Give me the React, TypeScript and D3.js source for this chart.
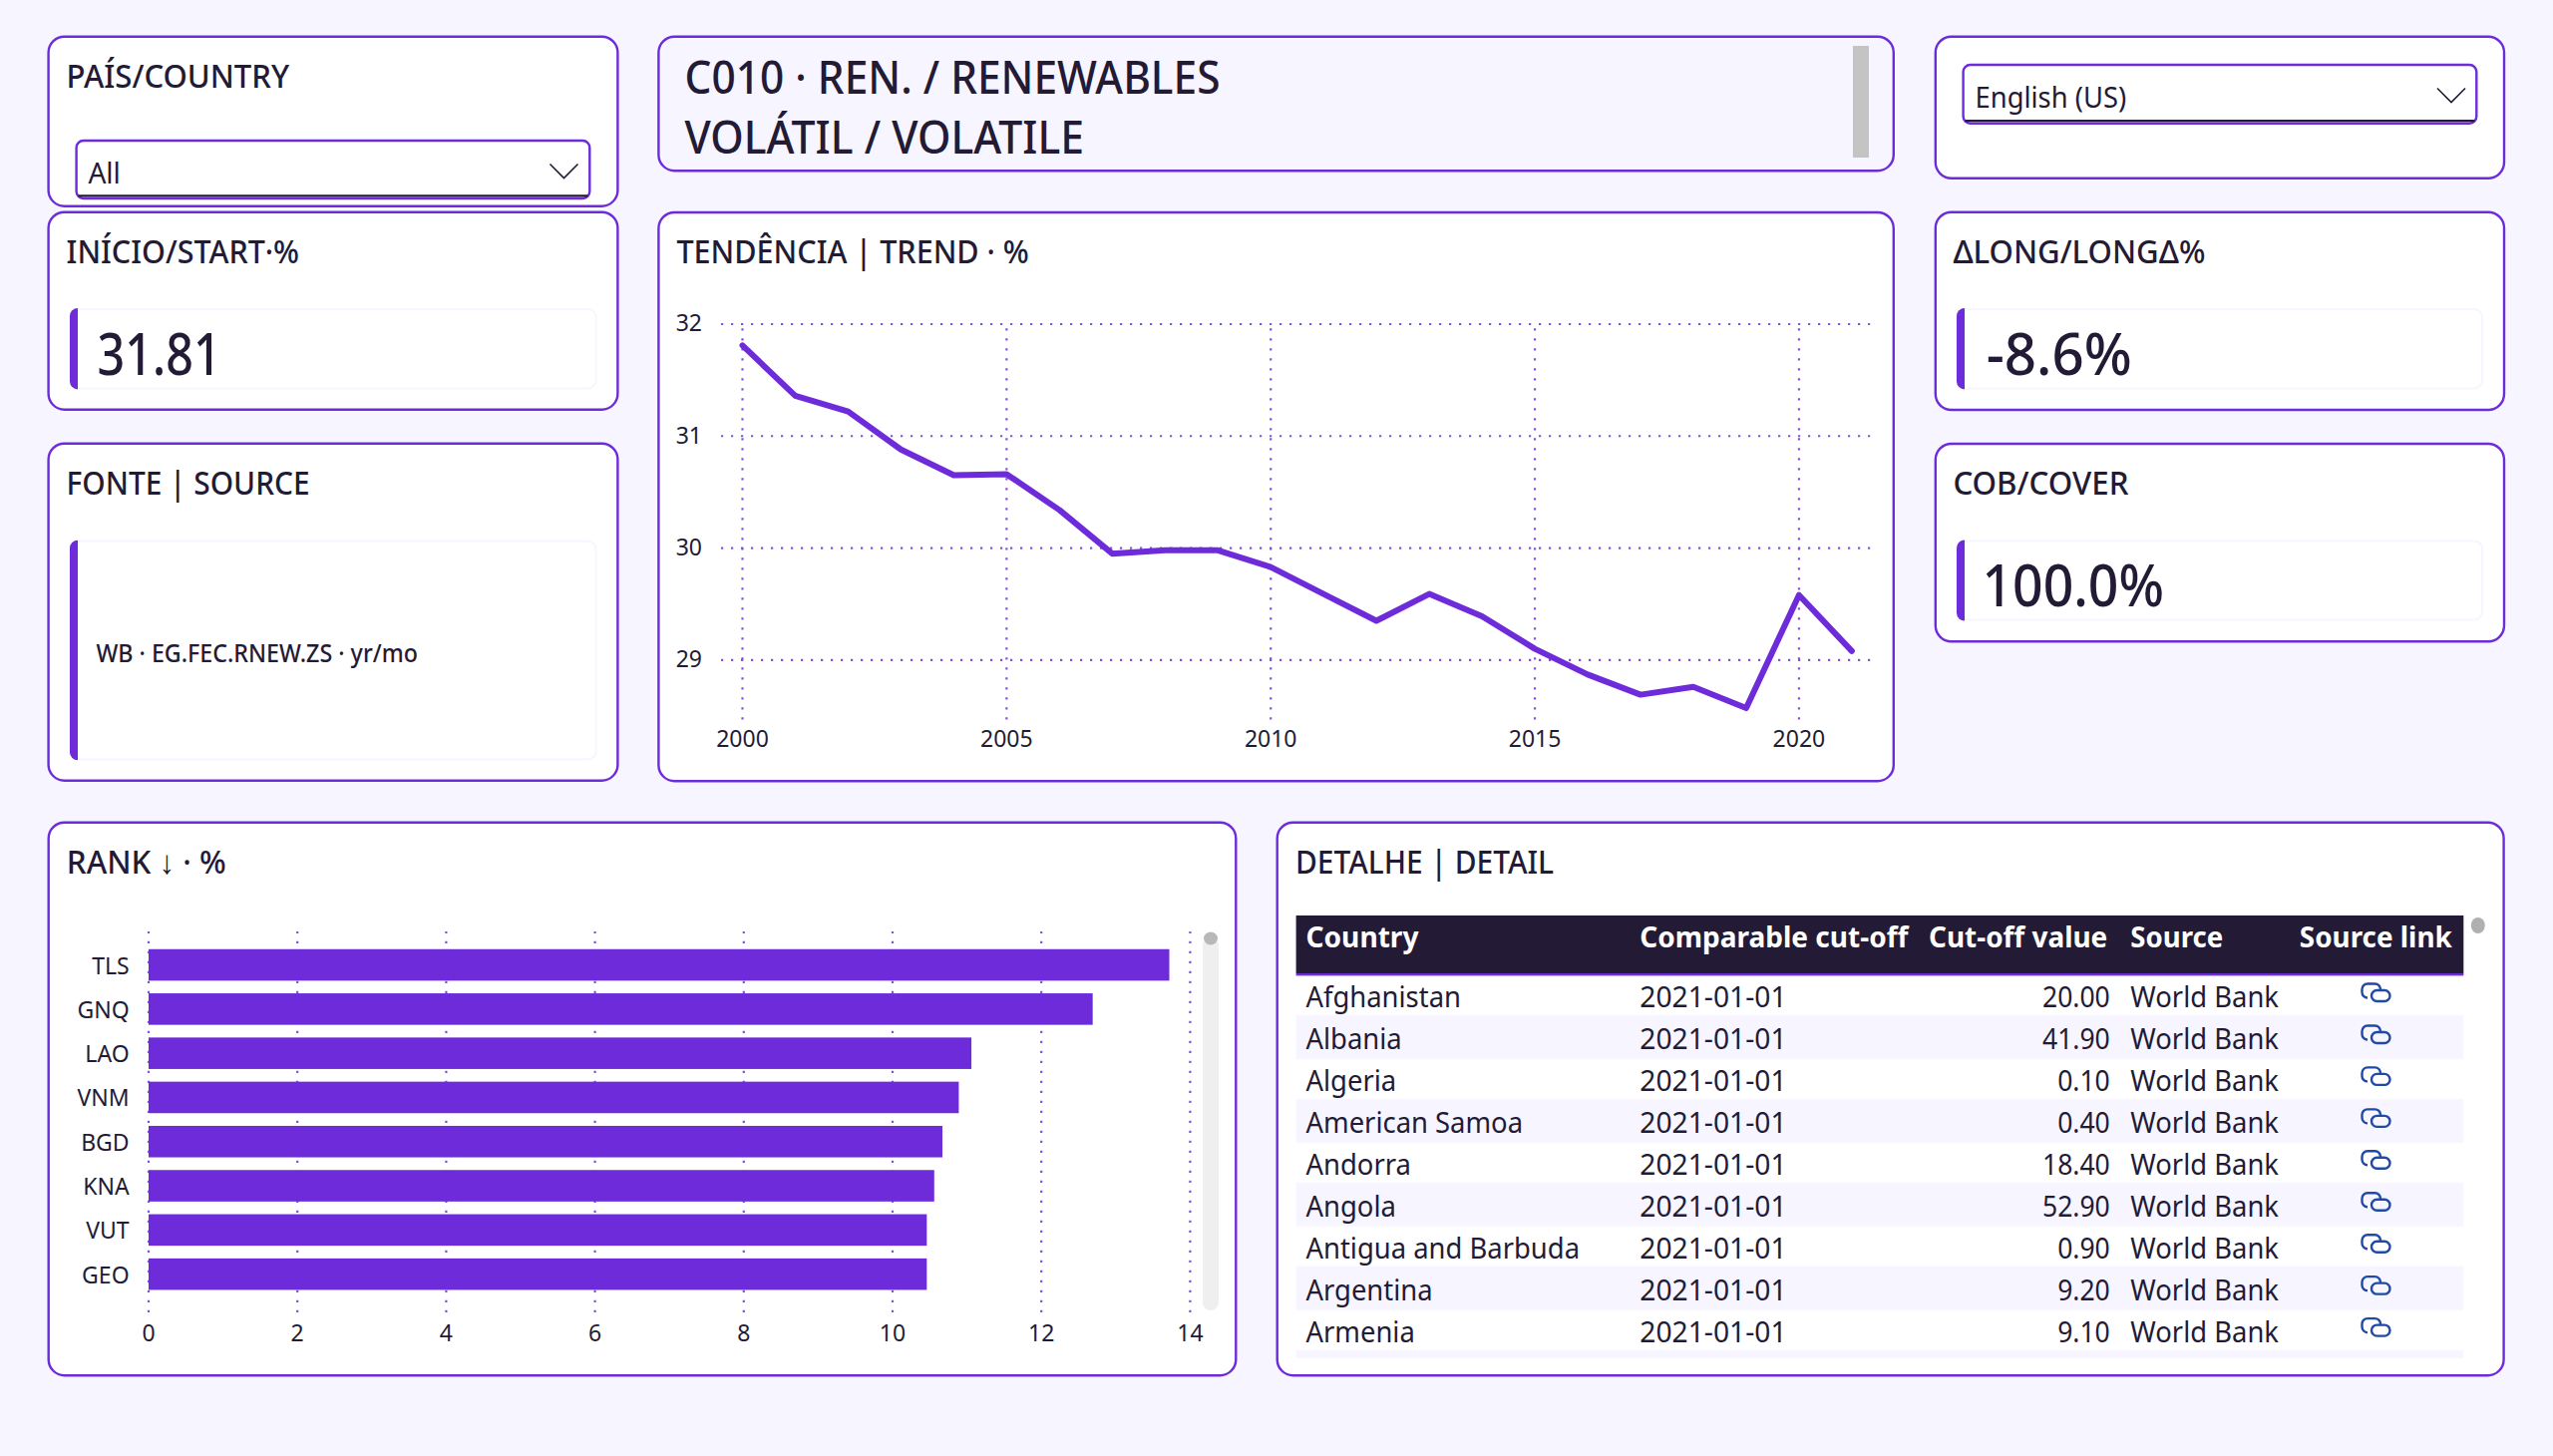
import { useEffect, useRef } from "react"
import * as d3 from "d3"

const years = [2000, 2001, 2002, 2003, 2004, 2005, 2006, 2007, 2008, 2009, 2010, 2011, 2012, 2013, 2014, 2015, 2016, 2017, 2018, 2019, 2020, 2021]
const trendValues = [31.81, 31.36, 31.22, 30.88, 30.65, 30.66, 30.34, 29.95, 29.98, 29.98, 29.83, 29.59, 29.35, 29.59, 29.39, 29.1, 28.87, 28.69, 28.76, 28.57, 29.58, 29.08]
const trendYearTicks = [2000, 2005, 2010, 2015, 2020]
const trendValueTicks = [29, 30, 31, 32]

const rankCodes = ["TLS", "GNQ", "LAO", "VNM", "BGD", "KNA", "VUT", "GEO"]
const rankValues = [13.72, 12.69, 11.06, 10.89, 10.67, 10.56, 10.46, 10.46]
const rankTicks = [0, 2, 4, 6, 8, 10, 12, 14]

const tableHeaders = ["Country", "Comparable cut-off", "Cut-off value", "Source", "Source link"]
const countries = ["Afghanistan", "Albania", "Algeria", "American Samoa", "Andorra", "Angola", "Antigua and Barbuda", "Argentina", "Armenia"]
const cutoffDates = ["2021-01-01", "2021-01-01", "2021-01-01", "2021-01-01", "2021-01-01", "2021-01-01", "2021-01-01", "2021-01-01", "2021-01-01"]
const cutoffValues = [20.0, 41.9, 0.1, 0.4, 18.4, 52.9, 0.9, 9.2, 9.1]
const sources = ["World Bank", "World Bank", "World Bank", "World Bank", "World Bank", "World Bank", "World Bank", "World Bank", "World Bank"]

const PURPLE = "#6d2bd9"
const INK = "#231b36"
const PAGE = "#f7f5ff"
const DOT = "#8350e1"
const FONT = "'Noto Sans', 'Open Sans', sans-serif"

type Sel = d3.Selection<SVGGElement, unknown, null, undefined>

function label(g: Sel, x: number, y: number, str: string, size: number, opts: { w?: number; squeeze?: number; weight?: number; anchor?: string; fill?: string } = {}) {
  const t = g
    .append("text")
    .attr("x", x)
    .attr("y", y)
    .attr("font-size", size)
    .attr("font-weight", opts.weight ?? 400)
    .attr("fill", opts.fill ?? INK)
    .attr("text-anchor", opts.anchor ?? "start")
    .text(str)
  const width = opts.w ?? (opts.squeeze ? (t.node() as SVGTextElement).getComputedTextLength() * opts.squeeze : 0)
  if (width) t.attr("textLength", width).attr("lengthAdjust", "spacingAndGlyphs")
  return t
}

function card(g: Sel, x0: number, y0: number, x1: number, y1: number, fill = "#fff") {
  g.append("rect")
    .attr("x", x0)
    .attr("y", y0)
    .attr("width", x1 - x0)
    .attr("height", y1 - y0)
    .attr("rx", 16)
    .attr("fill", fill)
    .attr("stroke", PURPLE)
    .attr("stroke-width", 2.4)
}

function innerBox(g: Sel, x0: number, y0: number, x1: number, y1: number) {
  g.append("rect")
    .attr("x", x0)
    .attr("y", y0)
    .attr("width", x1 - x0)
    .attr("height", y1 - y0)
    .attr("rx", 8)
    .attr("fill", "#fff")
    .attr("stroke", PAGE)
    .attr("stroke-width", 2)
  g.append("path")
    .attr("d", `M${x0 + 8},${y0 - 1}V${y1 + 1}A8,8 0 0 1 ${x0},${y1 - 7}V${y0 + 7}A8,8 0 0 1 ${x0 + 8},${y0 - 1}Z`)
    .attr("fill", PURPLE)
}

function dropdown(g: Sel, x0: number, y0: number, x1: number, y1: number, chevX: number, chevY: number) {
  g.append("rect")
    .attr("x", x0)
    .attr("y", y0)
    .attr("width", x1 - x0)
    .attr("height", y1 - y0)
    .attr("rx", 7)
    .attr("fill", "#fff")
    .attr("stroke", PURPLE)
    .attr("stroke-width", 2.4)
  g.append("line")
    .attr("x1", x0 + 2)
    .attr("x2", x1 - 2)
    .attr("y1", y1 - 2.6)
    .attr("y2", y1 - 2.6)
    .attr("stroke", INK)
    .attr("stroke-width", 2.4)
  g.append("path")
    .attr("d", `M${chevX},${chevY}L${chevX + 14},${chevY + 14}L${chevX + 28},${chevY}`)
    .attr("fill", "none")
    .attr("stroke", INK)
    .attr("stroke-width", 1.6)
}

function styleGrid(axis: Sel) {
  axis.select(".domain").remove()
  axis.selectAll(".tick line").attr("stroke", DOT).attr("stroke-width", 2.2).attr("stroke-dasharray", "2.2 7.8")
  axis.selectAll(".tick text").attr("fill", INK).attr("font-size", 23).attr("font-family", FONT)
}

export default function App() {
  const svgRef = useRef<SVGSVGElement>(null)

  useEffect(() => {
    if (!svgRef.current) return
    const svg = d3.select(svgRef.current)
    svg.selectAll("*").remove()
    const root = svg.append("g").attr("font-family", FONT) as unknown as Sel

    // left column
    card(root, 48.6, 36.7, 619.4, 206.7)
    label(root, 66.6, 87.7, "PAÍS/COUNTRY", 33, { w: 223.5, weight: 500 })
    dropdown(root, 76.6, 141, 591.3, 199, 551.5, 164.5)
    label(root, 88.4, 184, "All", 29, { squeeze: 0.97 })

    card(root, 48.6, 212.7, 619.4, 410.7)
    label(root, 66.6, 264, "INÍCIO/START·%", 33, { w: 233.5, weight: 500 })
    innerBox(root, 70, 310, 597.5, 389.4)
    label(root, 97.6, 375.7, "31.81", 58, { w: 124, weight: 500 })

    card(root, 48.6, 444.7, 619.4, 782.7)
    label(root, 66.6, 495.7, "FONTE | SOURCE", 33, { w: 244, weight: 500 })
    innerBox(root, 70, 542.7, 597.5, 761.3)
    label(root, 96.4, 664, "WB · EG.FEC.RNEW.ZS · yr/mo", 25, { w: 322.5, weight: 500 })

    // header + trend
    card(root, 660.4, 36.7, 1898.8, 171.2, PAGE)
    label(root, 686.5, 93.6, "C010 · REN. / RENEWABLES", 45, { w: 537, weight: 550 })
    label(root, 686.5, 153.8, "VOLÁTIL / VOLATILE", 45, { w: 400.5, weight: 550 })
    root.append("rect").attr("x", 1858).attr("y", 46).attr("width", 16).attr("height", 112).attr("fill", "#c4c4c4")

    card(root, 660.4, 213, 1898.8, 783.2)
    label(root, 678.4, 264, "TENDÊNCIA | TREND · %", 33, { w: 353.5, weight: 500 })

    const trendX = d3.scaleLinear().domain([2000, 2021]).range([744.5, 1856.9])
    const trendY = d3.scaleLinear().domain([29, 32]).range([661.8, 325])

    const trendAxisY = root.append("g").attr("transform", "translate(723,0)") as unknown as Sel
    trendAxisY.call(d3.axisLeft(trendY).tickValues(trendValueTicks).tickFormat(d3.format("d") as any).tickSizeInner(-1154).tickSizeOuter(0).tickPadding(19).offset(0) as any)
    styleGrid(trendAxisY)

    const trendAxisX = root.append("g").attr("transform", "translate(0,721.5)") as unknown as Sel
    trendAxisX.call(d3.axisBottom(trendX).tickValues(trendYearTicks).tickFormat(d3.format("d") as any).tickSizeInner(-396.5).tickSizeOuter(0).tickPadding(11).offset(0) as any)
    styleGrid(trendAxisX)

    const trendLine = d3
      .line<number>()
      .x((_, i) => trendX(years[i]))
      .y((d) => trendY(d))
    root
      .append("path")
      .attr("d", trendLine(trendValues))
      .attr("fill", "none")
      .attr("stroke", PURPLE)
      .attr("stroke-width", 6)
      .attr("stroke-linecap", "round")
      .attr("stroke-linejoin", "round")

    // right column
    card(root, 1940.8, 36.7, 2511, 178.8)
    dropdown(root, 1968.6, 65, 2483.3, 123.7, 2444, 88.5)
    label(root, 1980.6, 107.6, "English (US)", 29, { w: 151.5 })

    card(root, 1940.8, 212.7, 2511, 411)
    label(root, 1958.4, 263.7, "ΔLONG/LONGΔ%", 33, { w: 253, weight: 500 })
    innerBox(root, 1962, 310, 2489, 389.4)
    label(root, 1991.7, 376, "-8.6%", 58, { w: 146, weight: 500 })

    card(root, 1940.8, 445, 2511, 643.3)
    label(root, 1958.4, 495.5, "COB/COVER", 33, { w: 176, weight: 500 })
    innerBox(root, 1962, 542.4, 2489, 621.6)
    label(root, 1987.5, 608, "100.0%", 58, { w: 182.5, weight: 500 })

    // rank bars
    card(root, 48.7, 824.7, 1239.3, 1379.2)
    label(root, 66.8, 875.8, "RANK ↓ · %", 33, { w: 160, weight: 500 })

    const rankX = d3.scaleLinear().domain([0, 14]).range([149, 1193.4])
    const rankY = d3.scaleBand<string>().domain(rankCodes).range([945.4, 1299.8]).paddingInner(0.287).paddingOuter(0.1435)

    const rankAxisX = root.append("g").attr("transform", "translate(0,1316)") as unknown as Sel
    rankAxisX.call(d3.axisBottom(rankX).tickValues(rankTicks).tickSizeInner(-382).tickSizeOuter(0).tickPadding(13).offset(0) as any)
    styleGrid(rankAxisX)

    root
      .append("g")
      .selectAll("rect")
      .data(rankValues)
      .join("rect")
      .attr("x", rankX(0))
      .attr("y", (_, i) => rankY(rankCodes[i]) as number)
      .attr("width", (d) => rankX(d) - rankX(0))
      .attr("height", rankY.bandwidth())
      .attr("fill", PURPLE)

    const rankAxisY = root.append("g").attr("transform", "translate(149,0)") as unknown as Sel
    rankAxisY.call(d3.axisLeft(rankY).tickSize(0).tickPadding(19.4).offset(0) as any)
    rankAxisY.select(".domain").remove()
    rankAxisY.selectAll(".tick text").attr("fill", INK).attr("font-size", 23).attr("font-family", FONT).attr("dy", "0.39em")

    root.append("rect").attr("x", 1206).attr("y", 940).attr("width", 16).attr("height", 374).attr("rx", 8).attr("fill", "#efefef")
    root.append("ellipse").attr("cx", 1214).attr("cy", 941).attr("rx", 7).attr("ry", 6.5).attr("fill", "#b8b8b8")

    // detail table
    card(root, 1280.7, 824.7, 2510.6, 1379.2)
    label(root, 1299, 875.8, "DETALHE | DETAIL", 33, { w: 259, weight: 500 })

    root.append("rect").attr("x", 1299.6).attr("y", 918).attr("width", 1170.7).attr("height", 58).attr("fill", INK)
    root.append("rect").attr("x", 1299.6).attr("y", 976).attr("width", 1170.7).attr("height", 2.4).attr("fill", PURPLE)
    const headerX = [1309.5, 1644.3, 1934, 2136.3, 2305.8]
    const headerW = [113, 269, 179.3, 93, 153]
    tableHeaders.forEach((h, i) => label(root, headerX[i], 950.3, h, 29, { w: headerW[i], weight: 700, fill: "#fff" }))

    const rowY = d3.scaleLinear().domain([0, 1]).range([976, 1017.95])
    countries.forEach((name, i) => {
      if (i % 2 === 1) {
        root.append("rect").attr("x", 1299.6).attr("y", rowY(i)).attr("width", 1170.7).attr("height", 44).attr("fill", PAGE)
      }
      const base = rowY(i) + 34.2
      label(root, 1309.5, base, name, 29, { squeeze: 0.945 })
      label(root, 1644.3, base, cutoffDates[i], 29, { w: 147.3 })
      label(root, 2115.8, base, d3.format(".2f")(cutoffValues[i]), 29, { anchor: "end", squeeze: 0.915 })
      label(root, 2136.3, base, sources[i], 29, { w: 148.7 })
      const icon = root.append("g").attr("transform", `translate(2382.5,${rowY(i) + 19.5})`).attr("fill", "none").attr("stroke", "#1f4aa5").attr("stroke-width", 2.4).attr("stroke-linecap", "round")
      icon.append("path").attr("d", "M-9,5H-8.5A5.5,5.5 0 0 1 -14,-0.5V-3.5A5.5,5.5 0 0 1 -8.5,-9H-1A5.5,5.5 0 0 1 4.5,-3.5")
      icon.append("path").attr("d", "M-4.5,3A5.5,5.5 0 0 1 1,-2.5H8.5A5.5,5.5 0 0 1 14,3A5.5,5.5 0 0 1 8.5,8.5H1A5.5,5.5 0 0 1 -4.5,3")
    })
    root.append("rect").attr("x", 1299.6).attr("y", 1354).attr("width", 1170.7).attr("height", 8).attr("fill", PAGE)
    root.append("ellipse").attr("cx", 2484.8).attr("cy", 928).attr("rx", 7).attr("ry", 8).attr("fill", "#b0b0b0")
  }, [])

  return (
    <svg
      ref={svgRef}
      width={2560}
      height={1460}
      style={{ position: "absolute", left: 0, top: 0, background: PAGE, display: "block" }}
    />
  )
}
